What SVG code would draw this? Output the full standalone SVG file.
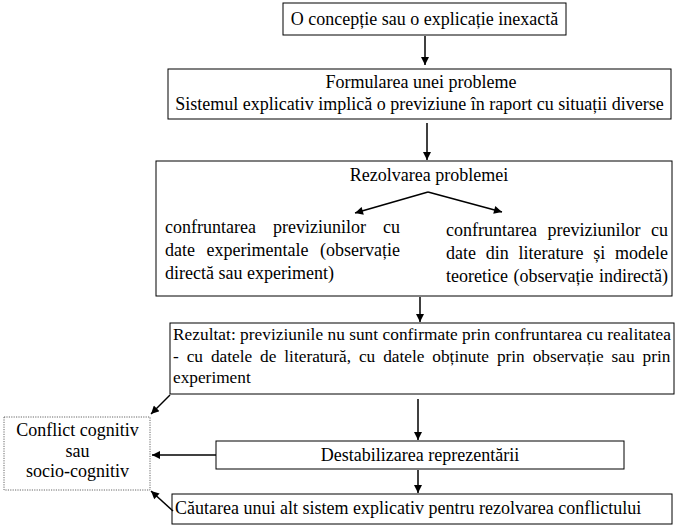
<svg xmlns="http://www.w3.org/2000/svg" width="691" height="530" viewBox="0 0 691 530">
<style>
.b{fill:#fff;stroke:#000;stroke-width:1}
.d{fill:#fff;stroke:#666;stroke-width:1;stroke-dasharray:1.2,1.2}
text{font-family:'Liberation Serif','Times New Roman',serif;font-size:18px;fill:#000}
.c{text-anchor:middle}
.s{font-size:17.3px}
.l{stroke:#000;stroke-width:1.5;fill:none;marker-end:url(#ah)}
</style>
<defs>
<marker id="ah" viewBox="0 0 10 10" refX="10" refY="5" markerWidth="10" markerHeight="8" markerUnits="userSpaceOnUse" orient="auto">
<path d="M0,0 L10,5 L0,10 z" fill="#000"/>
</marker>
</defs>
<rect width="691" height="530" fill="#fff"/>
<g id="n1"><rect class="b" x="283" y="3" width="283" height="32"/><text class="c" x="424.5" y="25">O concepție sau o explicație inexactă</text></g>
<g id="n2"><rect class="b" x="168" y="69" width="503" height="50"/><text class="c" x="421" y="88">Formularea unei probleme</text><text class="c" x="419.5" y="110">Sistemul explicativ implică o previziune în raport cu situații diverse</text></g>
<g id="n3"><rect class="b" x="156" y="161" width="516" height="135"/><text class="c" x="429" y="181">Rezolvarea problemei</text>
<text x="165" y="233" word-spacing="12.5">confruntarea previziunilor cu</text>
<text x="165" y="256" word-spacing="7">date experimentale (observație</text>
<text x="165" y="279">directă sau experiment)</text>
<text x="446" y="236" word-spacing="6">confruntarea previziunilor cu</text>
<text x="446" y="259" word-spacing="5.25">date din literature și modele</text>
<text x="446" y="282" word-spacing="1">teoretice (observație indirectă)</text>
</g>
<g id="n4"><rect class="b" x="170" y="323" width="504" height="71"/>
<text class="s" x="173" y="340" textLength="498" lengthAdjust="spacing">Rezultat: previziunile nu sunt confirmate prin confruntarea cu realitatea</text>
<text class="s" x="173" y="361.5" word-spacing="3.6">- cu datele de literatură, cu datele obținute prin observație sau prin</text>
<text class="s" x="173" y="383">experiment</text>
</g>
<g id="n5"><rect class="d" x="4" y="417" width="146" height="73"/><text class="c" x="77.5" y="436">Conflict cognitiv</text><text class="c" x="77.5" y="456.5">sau</text><text class="c" x="77.5" y="477">socio-cognitiv</text></g>
<g id="n6"><rect class="b" x="216" y="441" width="408" height="28"/><text class="c" x="420" y="461">Destabilizarea reprezentării</text></g>
<g id="n7"><rect class="b" x="172" y="494" width="500" height="30"/><text x="175" y="514">Căutarea unui alt sistem explicativ pentru rezolvarea conflictului</text></g>
<g id="connectors">
<line class="l" x1="425" y1="36" x2="425" y2="65"/>
<line class="l" x1="427" y1="123" x2="427" y2="160"/>
<line class="l" x1="428" y1="192" x2="355" y2="213"/>
<line class="l" x1="428" y1="192" x2="502" y2="212"/>
<line class="l" x1="420" y1="297" x2="420" y2="322"/>
<line class="l" x1="170" y1="395" x2="151" y2="414"/>
<line class="l" x1="418" y1="399" x2="418" y2="440"/>
<line class="l" x1="216" y1="455" x2="152" y2="455"/>
<line class="l" x1="418" y1="470" x2="418" y2="493"/>
<line class="l" x1="173" y1="511" x2="151" y2="491"/>
</g>
</svg>
